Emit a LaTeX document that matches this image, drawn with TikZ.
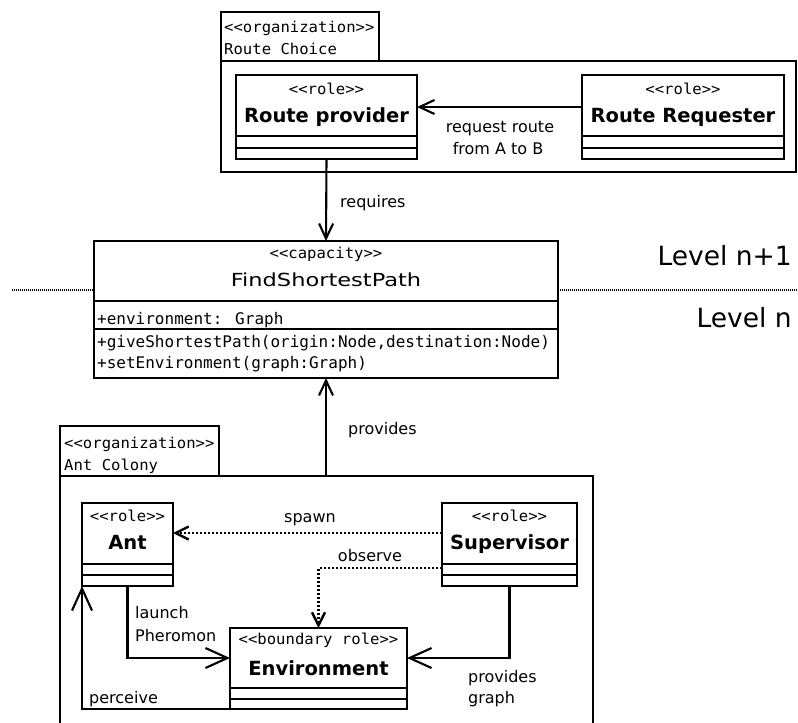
\documentclass[tikz,border=0pt]{standalone}
\usepackage{fontspec}
\setmainfont{DejaVu Sans}
\newfontfamily\monof[FakeStretch=1.04]{DejaVu Sans Mono}
\newfontfamily\attrf{DejaVu Sans Mono}
\newfontfamily\widef[FakeStretch=1.25]{DejaVu Sans}
\usetikzlibrary{arrows.meta}
\newcommand{\stereotxt}[1]{<{}<#1>{}>}
\begin{document}
\begin{tikzpicture}[x=1pt,y=-1pt,
  box/.style={draw, line width=2.1pt, inner sep=0pt, outer sep=0pt, anchor=north west},
  sepl/.style={line width=2.1pt},
  stereo/.style={font=\monof\fontsize{15}{17}\selectfont, inner sep=0pt, anchor=base},
  orgtxt/.style={font=\monof\fontsize{15}{17}\selectfont, inner sep=0pt, anchor=base west},
  attr/.style={font=\attrf\fontsize{16}{18}\selectfont, inner sep=0pt, anchor=base west},
  rname/.style={font=\fontsize{19.5}{22}\selectfont\bfseries, inner sep=0pt, anchor=base},
  capname/.style={font=\widef\fontsize{18}{20}\selectfont, inner sep=0pt, anchor=base},
  lbl/.style={font=\fontsize{16}{20}\selectfont, inner sep=0pt},
  levelf/.style={font=\fontsize{26.5}{30}\selectfont, inner sep=0pt, anchor=base east},
  levelline/.style={line width=1.5pt, dash pattern=on 1pt off 1pt},
  arr/.style={line width=2.1pt, -{Straight Barb[length=15pt,width=14pt]}},
  bigarr/.style={line width=2.1pt, -{Straight Barb[length=22pt,width=20pt]}},
  dotarr/.style={line width=2.4pt, dash pattern=on 2pt off 2pt, -{Straight Barb[length=13pt,width=13pt]}}
]
\useasboundingbox (0,0) rectangle (798,723);

% ---------- Route Choice organization ----------
\node[box, minimum width=158pt, minimum height=49pt] (rcTab) at (221,12) {};
\node[box, minimum width=575pt, minimum height=111pt] (rcBox) at (221,61) {};
\node[orgtxt] (rcT1) at (224,32) {\stereotxt{organization}};
\node[orgtxt] (rcT2) at (224,54) {Route Choice};

% Route provider
\node[box, minimum width=181pt, minimum height=84pt] (prov) at (236,75) {};
\draw[sepl] ([yshift=23pt]prov.south west) -- ([yshift=23pt]prov.south east);
\draw[sepl] ([yshift=11pt]prov.south west) -- ([yshift=11pt]prov.south east);
\node[stereo] (provS) at ([yshift=-19pt]prov.north) {\stereotxt{role}};
\node[rname] (provN) at ([yshift=-47pt]prov.north) {Route provider};

% Route Requester
\node[box, minimum width=202pt, minimum height=84pt] (req) at (582,75) {};
\draw[sepl] ([yshift=23pt]req.south west) -- ([yshift=23pt]req.south east);
\draw[sepl] ([yshift=11pt]req.south west) -- ([yshift=11pt]req.south east);
\node[stereo] (reqS) at ([yshift=-19pt]req.north) {\stereotxt{role}};
\node[rname] (reqN) at ([yshift=-47pt]req.north) {Route Requester};

\draw[arr] ([yshift=-32pt]req.north west) -- ([yshift=-32pt]prov.north east);
\node[lbl, anchor=base] (reqL1) at (500,132) {request route};
\node[lbl, anchor=base] (reqL2) at (498,154) {from A to B};

% ---------- Capacity ----------
\node[box, minimum width=464pt, minimum height=137pt] (cap) at (94,241) {};
\draw[sepl] ([yshift=77pt]cap.south west) -- ([yshift=77pt]cap.south east);
\draw[sepl] ([yshift=49pt]cap.south west) -- ([yshift=49pt]cap.south east);
\node[stereo] (capS) at ([yshift=-17pt]cap.north) {\stereotxt{capacity}};
\node[capname] (capN) at ([yshift=-45pt]cap.north) {FindShortestPath};
\node[attr] (capA1) at ([xshift=3pt,yshift=-83pt]cap.north west) {+environment: Graph};
\node[attr] (capA2) at ([xshift=3pt,yshift=-106pt]cap.north west) {+giveShortestPath(origin:Node,destination:Node)};
\node[attr] (capA3) at ([xshift=3pt,yshift=-127pt]cap.north west) {+setEnvironment(graph:Graph)};

\draw[arr] (prov.south) -- (cap.north);
\node[lbl, anchor=base west] (reqsL) at (340,207) {requires};

% Level separator
\coordinate (lvlL) at (12,290);
\coordinate (lvlR) at (798,290);
\draw[levelline] (lvlL) -- (lvlL -| cap.west);
\draw[levelline] (cap.east |- lvlR) -- (lvlR);
\node[levelf] (lvl1) at (792,265) {Level n+1};
\node[levelf] (lvl0) at (792,327) {Level n};

% ---------- Ant Colony organization ----------
\node[box, minimum width=159pt, minimum height=50pt] (acTab) at (60,426) {};
\node[box, minimum width=533pt, minimum height=320pt] (acBox) at (60,476) {};
\node[orgtxt] (acT1) at (64,448) {\stereotxt{organization}};
\node[orgtxt] (acT2) at (64,470) {Ant Colony};

\draw[arr] (cap.south |- acBox.north) -- (cap.south);
\node[lbl, anchor=base west] (provL) at (348,434) {provides};

% Ant
\node[box, minimum width=91pt, minimum height=83pt] (ant) at (82,503) {};
\draw[sepl] ([yshift=22pt]ant.south west) -- ([yshift=22pt]ant.south east);
\draw[sepl] ([yshift=11pt]ant.south west) -- ([yshift=11pt]ant.south east);
\node[stereo] (antS) at ([yshift=-18pt]ant.north) {\stereotxt{role}};
\node[rname] (antN) at ([yshift=-46pt]ant.north) {Ant};

% Supervisor
\node[box, minimum width=135pt, minimum height=83pt] (sup) at (442,503) {};
\draw[sepl] ([yshift=22pt]sup.south west) -- ([yshift=22pt]sup.south east);
\draw[sepl] ([yshift=11pt]sup.south west) -- ([yshift=11pt]sup.south east);
\node[stereo] (supS) at ([yshift=-18pt]sup.north) {\stereotxt{role}};
\node[rname] (supN) at ([yshift=-46pt]sup.north) {Supervisor};

% Environment
\node[box, minimum width=177pt, minimum height=81pt] (env) at (230,628) {};
\draw[sepl] ([yshift=21pt]env.south west) -- ([yshift=21pt]env.south east);
\draw[sepl] ([yshift=10pt]env.south west) -- ([yshift=10pt]env.south east);
\node[stereo] (envS) at ([yshift=-16pt]env.north) {\stereotxt{boundary role}};
\node[rname] (envN) at ([yshift=-47pt]env.north) {Environment};

% connectors
\draw[dotarr] ([yshift=-30pt]sup.north west) -- ([yshift=-30pt]ant.north east);
\node[lbl, anchor=base] (spawnL) at (310,522) {spawn};
\draw[dotarr] ([yshift=-65pt]sup.north west) -| (env.north);
\node[lbl, anchor=base] (obsL) at (370,561) {observe};
\draw[bigarr] (ant.south) |- ([yshift=-30pt]env.north west);
\node[lbl, anchor=base west] (launchL1) at (135,618) {launch};
\node[lbl, anchor=base west] (launchL2) at (135,641) {Pheromon};
\draw[bigarr] (sup.south) |- ([yshift=-30pt]env.north east);
\node[lbl, anchor=base west] (pgL1) at (468,682) {provides};
\node[lbl, anchor=base west] (pgL2) at (468,703) {graph};
\draw[bigarr] (env.south west) -| (ant.south west);
\node[lbl, anchor=base west] (percL) at (89,703) {perceive};
\end{tikzpicture}
\end{document}
